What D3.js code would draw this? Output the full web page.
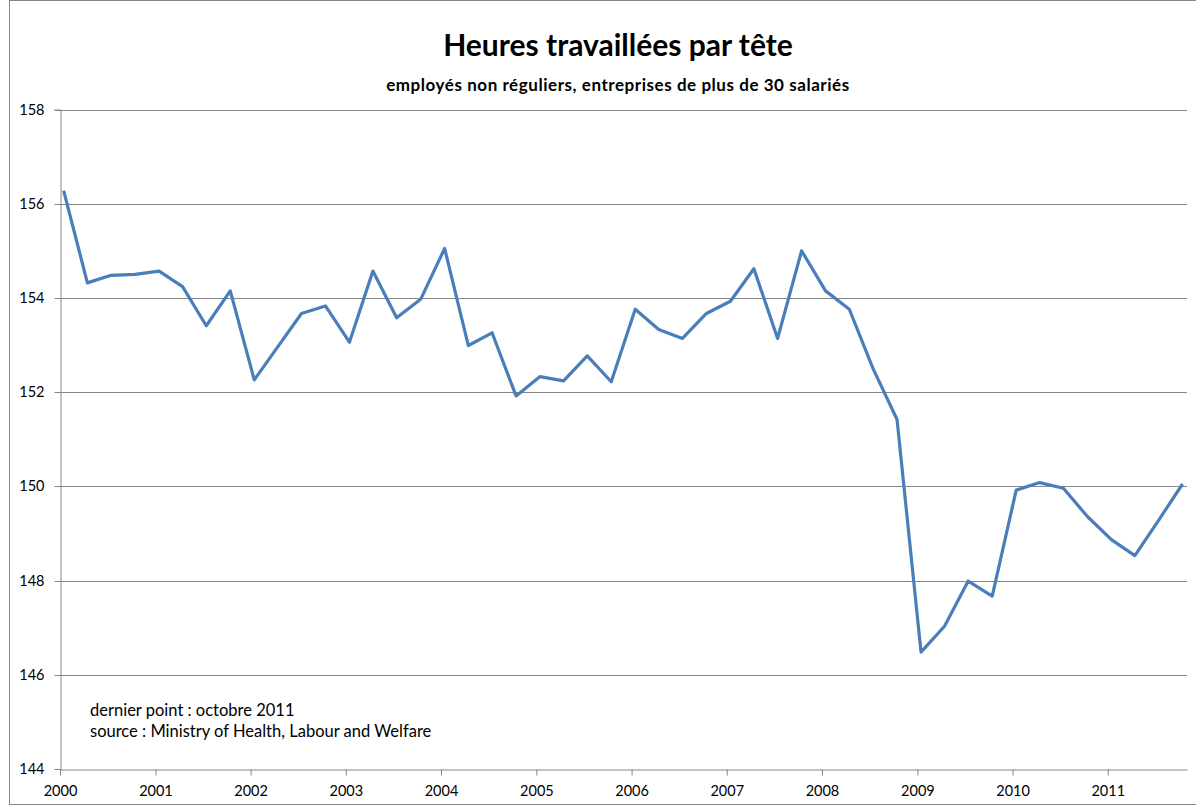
<!DOCTYPE html>
<html>
<head>
<meta charset="utf-8">
<script src="https://cdn.jsdelivr.net/npm/d3@7"></script>
<style>
  body { margin: 0; background: #fff; }
  text { font-family: Lato, "Open Sans", sans-serif; fill: #000; }
</style>
</head>
<body>
<script>
// quarterly points (mid-month of Jan / Apr / Jul / Oct), 2000 -> oct 2011
var years = d3.range(2000, 2012);
var months = [0, 3, 6, 9];
var values = [
  156.28, 154.32, 154.48, 154.50,
  154.57, 154.24, 153.41, 154.15,
  152.26, 152.96, 153.67, 153.83,
  153.06, 154.57, 153.58, 153.97,
  155.05, 152.99, 153.26, 151.92,
  152.33, 152.24, 152.77, 152.22,
  153.76, 153.33, 153.14, 153.67,
  153.93, 154.62, 153.14, 155.00,
  154.15, 153.76, 152.50, 151.42,
  146.48, 147.03, 147.99, 147.67,
  149.92, 150.08, 149.96, 149.36,
  148.87, 148.53, 149.28, 150.05
];
var yTicks = [144, 146, 148, 150, 152, 154, 156, 158];
var title = "Heures travaillées par tête";
var subtitle = "employés non réguliers, entreprises de plus de 30 salariés";
var notes = ["dernier point : octobre 2011", "source : Ministry of Health, Labour and Welfare"];

var dates = [];
years.forEach(function (y) {
  months.forEach(function (m) { dates.push(new Date(y, m, 15)); });
});
var data = values.map(function (v, i) { return { date: dates[i], value: v }; });

var W = 1196, H = 807;
var svg = d3.select("body").append("svg")
  .attr("width", W)
  .attr("height", H);

// outer frame
svg.append("rect")
  .attr("x", 9.5).attr("y", 0.5)
  .attr("width", 1200).attr("height", 804)
  .attr("fill", "none")
  .attr("stroke", "#868686");

var x = d3.scaleTime()
  .domain([new Date(2000, 0, 1), new Date(2011, 10, 1)])
  .range([60, 1187]);

var y = d3.scaleLinear()
  .domain([144, 158])
  .range([769, 109.5]);

// horizontal gridlines
svg.append("g").selectAll("line")
  .data(yTicks.slice(1))
  .enter().append("line")
  .attr("x1", 60).attr("x2", 1187)
  .attr("y1", function (d) { return Math.round(y(d)) + 0.5; })
  .attr("y2", function (d) { return Math.round(y(d)) + 0.5; })
  .attr("stroke", "#868686");

// y axis
var yAxis = svg.append("g")
  .attr("transform", "translate(60.5,0)")
  .call(d3.axisLeft(y).tickValues(yTicks).tickSize(6).tickPadding(10));
yAxis.select(".domain").attr("stroke", "#868686");
yAxis.selectAll(".tick line").attr("stroke", "#868686");
yAxis.selectAll(".tick").attr("transform", function (d) {
  return "translate(0," + (Math.round(y(d)) + 0.5) + ")";
});
yAxis.selectAll("text")
  .attr("font-size", 14.5)
  .attr("font-family", "Lato, 'Open Sans', sans-serif")
  .attr("fill", "#000");

// x axis
var xAxis = svg.append("g")
  .attr("transform", "translate(0,769.5)")
  .call(d3.axisBottom(x)
    .tickValues(years.map(function (yr) { return new Date(yr, 0, 1); }))
    .tickFormat(d3.timeFormat("%Y"))
    .tickSize(6).tickPadding(10)
    .tickSizeOuter(0));
xAxis.select(".domain").attr("stroke", "#868686");
xAxis.selectAll(".tick line").attr("stroke", "#868686");
xAxis.selectAll("text")
  .attr("font-size", 14.5)
  .attr("font-family", "Lato, 'Open Sans', sans-serif")
  .attr("fill", "#000");

// series
var line = d3.line()
  .x(function (d) { return x(d.date); })
  .y(function (d) { return y(d.value); });

svg.append("path")
  .datum(data)
  .attr("d", line)
  .attr("fill", "none")
  .attr("stroke", "#4a7ebb")
  .attr("stroke-width", 3.2)
  .attr("stroke-linejoin", "round");

// titles
svg.append("text")
  .attr("x", 618).attr("y", 56)
  .attr("text-anchor", "middle")
  .attr("font-size", 30)
  .attr("font-weight", "bold")
  .text(title);

svg.append("text")
  .attr("x", 618).attr("y", 91)
  .attr("text-anchor", "middle")
  .attr("font-size", 17)
  .attr("letter-spacing", 0.55)
  .attr("font-weight", "bold")
  .text(subtitle);

// notes
svg.append("g").selectAll("text")
  .data(notes)
  .enter().append("text")
  .attr("x", 90)
  .attr("y", function (d, i) { return 716 + i * 21; })
  .attr("font-size", 16.5)
  .text(function (d) { return d; });
</script>
</body>
</html>
